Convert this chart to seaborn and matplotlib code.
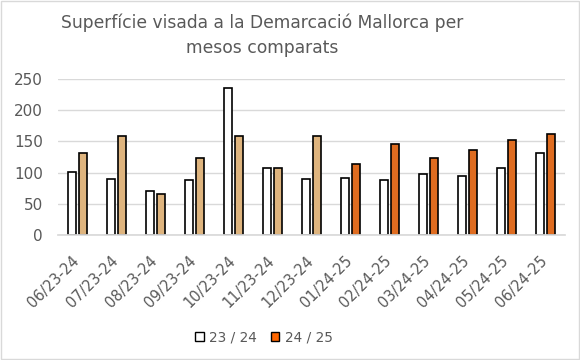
import pandas as pd
import matplotlib.pyplot as plt
import seaborn as sns
from matplotlib.patches import Patch, Rectangle
from matplotlib.transforms import ScaledTranslation

# Data
mesos = ['06/23-24', '07/23-24', '08/23-24', '09/23-24', '10/23-24', '11/23-24', '12/23-24',
         '01/24-25', '02/24-25', '03/24-25', '04/24-25', '05/24-25', '06/24-25']
serie_2324 = [101, 90, 70, 88, 235, 108, 89, 91, 88, 97, 94, 107, 132]
serie_2425 = [132, 158, 65, 123, 158, 107, 158, 113, 145, 123, 136, 152, 161]
series = ['23 / 24', '24 / 25']

df = pd.DataFrame({
    'mes': mesos * 2,
    'valor': serie_2324 + serie_2425,
    'serie': [series[0]] * len(mesos) + [series[1]] * len(mesos),
})

sns.set_theme(style="white")
plt.rcParams['font.family'] = ['DejaVu Sans']
grey = '#595959'
tan = '#deb47e'
orange = '#ff6600'

fig = plt.figure(figsize=(5.8, 3.6), dpi=100)
ax = fig.add_axes([0.1, 0.347, 0.874, 0.434])

sns.barplot(data=df, x='mes', y='valor', hue='serie', order=mesos, hue_order=series,
            palette=['white', orange], width=0.54, gap=0.25, edgecolor='black',
            linewidth=1.2, legend=False, ax=ax)

# the 24/25 bars of the months of the previous season are drawn in tan
bars_2425 = ax.containers[1]
for i, bar in enumerate(bars_2425):
    if i < 7:
        bar.set_facecolor(tan)

ax.set_ylim(0, 250)
ax.set_yticks(range(0, 251, 50))
ax.yaxis.grid(True, color='#d9d9d9', linewidth=1)
ax.set_axisbelow(True)
for s in ['top', 'right', 'left']:
    ax.spines[s].set_visible(False)
ax.spines['bottom'].set_color('#d9d9d9')
ax.set_xlabel('')
ax.set_ylabel('')
ax.tick_params(axis='y', labelsize=11, colors=grey, length=0, pad=11)
ax.tick_params(axis='x', labelsize=10.5, colors=grey, length=0, pad=13)
shift = ScaledTranslation(-6 / 100, 0, fig.dpi_scale_trans)
for lbl in ax.get_xticklabels():
    lbl.set_rotation(45)
    lbl.set_ha('right')
    lbl.set_va('top')
    lbl.set_rotation_mode('anchor')
    lbl.set_transform(lbl.get_transform() + shift)

fig.text(0.452, 0.962, 'Superfície visada a la Demarcació Mallorca per\nmesos comparats',
         ha='center', va='top', fontsize=12.3, color=grey, linespacing=1.5)

handles = [Patch(facecolor='white', edgecolor='black', label=series[0]),
           Patch(facecolor=orange, edgecolor='black', label=series[1])]
fig.legend(handles=handles, loc='center', bbox_to_anchor=(0.455, 0.063), ncol=2, frameon=False,
           fontsize=9.8, labelcolor=grey, handlelength=0.65, handleheight=0.65,
           handletextpad=0.4, columnspacing=1.0)

fig.patches.append(Rectangle((0.002, 0.003), 0.996, 0.994, transform=fig.transFigure,
                             fill=False, edgecolor='#d9d9d9', linewidth=1))

plt.savefig('out.png', dpi=100)
plt.close()
